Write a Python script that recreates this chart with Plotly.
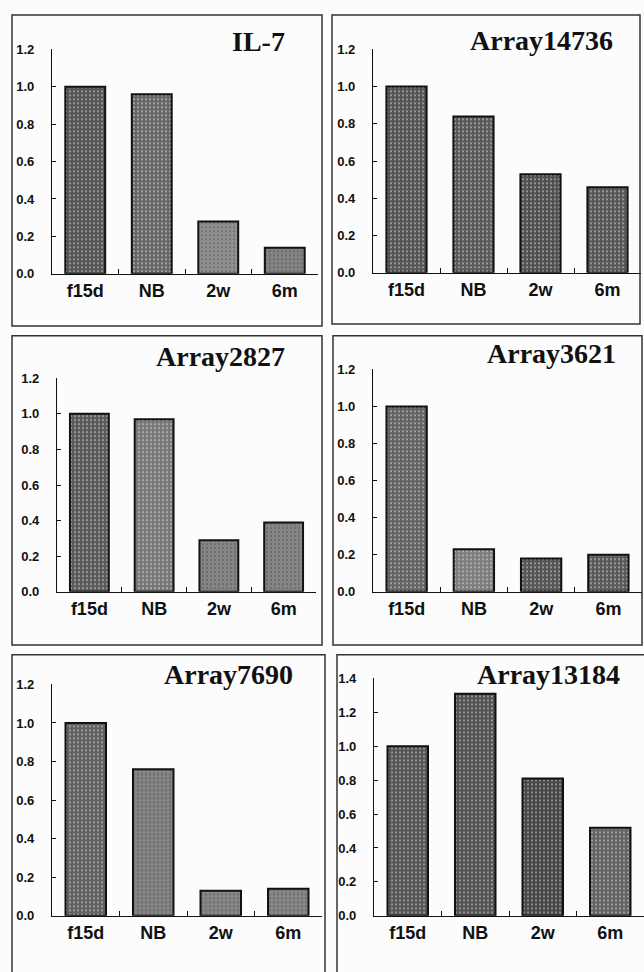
import plotly.graph_objects as go

W, H = 644, 972

categories = ["f15d", "NB", "2w", "6m"]
titles = ["IL-7", "Array14736", "Array2827", "Array3621", "Array7690", "Array13184"]
il7 = [1.0, 0.96, 0.28, 0.14]
array14736 = [1.0, 0.84, 0.53, 0.46]
array2827 = [1.0, 0.97, 0.29, 0.39]
array3621 = [1.0, 0.23, 0.18, 0.20]
array7690 = [1.0, 0.76, 0.13, 0.14]
array13184 = [1.0, 1.31, 0.81, 0.52]
y_max = [1.2, 1.2, 1.2, 1.2, 1.2, 1.4]
series = [il7, array14736, array2827, array3621, array7690, array13184]

# styling (bar greys per panel)
bar_colors = [
    ["#555555", "#666666", "#8f8f8f", "#838383"],
    ["#555555", "#5a5a5a", "#505050", "#575757"],
    ["#5a5a5a", "#777777", "#858585", "#858585"],
    ["#636363", "#7d7d7d", "#555555", "#5a5a5a"],
    ["#606060", "#848484", "#878787", "#878787"],
    ["#555555", "#535353", "#464646", "#636363"],
]

# layout in pixels: (x0, x1, y_base, y_top_px) for plot area
plot_px = [
    (52, 318, 271, 43),
    (373, 641, 270, 43),
    (57, 316, 594, 377),
    (373, 642, 594, 368),
    (52, 322, 923, 688),
    (374, 644, 923, 682),
]
border_px = [
    (12, 322, 8, 324),
    (332, 640, 8, 322),
    (12, 322, 334, 648),
    (333, 642, 334, 648),
    (12, 325, 658, 990),
    (337, 660, 658, 990),
]
title_pos = [(287, 35), (615, 34), (287, 355), (618, 352), (295, 678), (622, 678)]

fig = go.Figure()
shapes = []
annotations = []
for i in range(6):
    n = i + 1
    xa = "x" if n == 1 else f"x{n}"
    ya = "y" if n == 1 else f"y{n}"
    fig.add_trace(go.Bar(
        x=categories, y=series[i], xaxis=xa, yaxis=ya,
        width=0.6,
        marker=dict(
            color=bar_colors[i],
            line=dict(color="#111111", width=2),
            pattern=dict(shape=".", fgcolor="#a0a0a0", size=4, solidity=0.2),
        ),
        showlegend=False, hoverinfo="skip",
    ))
    x0, x1, yb, yt = plot_px[i]
    ymax = y_max[i]
    xkey = "xaxis" if n == 1 else f"xaxis{n}"
    ykey = "yaxis" if n == 1 else f"yaxis{n}"
    fig.update_layout(**{
        xkey: dict(
            domain=[x0 / W, min(x1 / W, 1)], anchor=ya, type="category",
            range=[-0.5, 3.5], showline=True, linecolor="#111111", linewidth=1.3,
            ticks="inside", tickson="boundaries", ticklen=5, tickcolor="#111111",
            tickwidth=1.2, showgrid=False, zeroline=False,
            tickfont=dict(family="Liberation Sans, Arial", size=18, color="#111111", weight="bold"),
            ticklabelstandoff=0, fixedrange=True,
        ),
        ykey: dict(
            domain=[1 - yb / H, 1 - yt / H], anchor=xa,
            range=[0, ymax], dtick=0.2, tick0=0, tickformat=".1f",
            showline=True, linecolor="#111111", linewidth=1.3,
            ticks="inside", ticklen=4, tickcolor="#111111", tickwidth=1.2,
            showgrid=False, zeroline=False,
            tickfont=dict(family="Liberation Sans, Arial", size=13, color="#111111", weight="bold"),
            ticklabelstandoff=14, fixedrange=True,
        ),
    })
    bx0, bx1, by0, by1 = border_px[i]
    shapes.append(dict(
        type="rect", xref="paper", yref="paper",
        x0=bx0 / W, x1=bx1 / W, y0=1 - by0 / H, y1=1 - by1 / H,
        line=dict(color="#333333", width=1.5), fillcolor="rgba(0,0,0,0)", layer="below",
    ))
    tx, ty = title_pos[i]
    annotations.append(dict(
        text=f"<b>{titles[i]}</b>", xref="paper", yref="paper",
        x=tx / W, y=1 - ty / H, xanchor="right", yanchor="middle", showarrow=False,
        font=dict(family="Liberation Serif, Times New Roman", size=28, color="#111111"),
    ))

fig.update_layout(
    width=W, height=H, margin=dict(l=0, r=0, t=0, b=0),
    paper_bgcolor="#fcfcfc", plot_bgcolor="rgba(0,0,0,0)",
    shapes=shapes, annotations=annotations, bargap=0.4,
)

fig.write_html(
    "out.html",
    config={"displayModeBar": False},
    post_script="document.body.style.margin='0px';document.body.style.overflow='hidden';",
)
